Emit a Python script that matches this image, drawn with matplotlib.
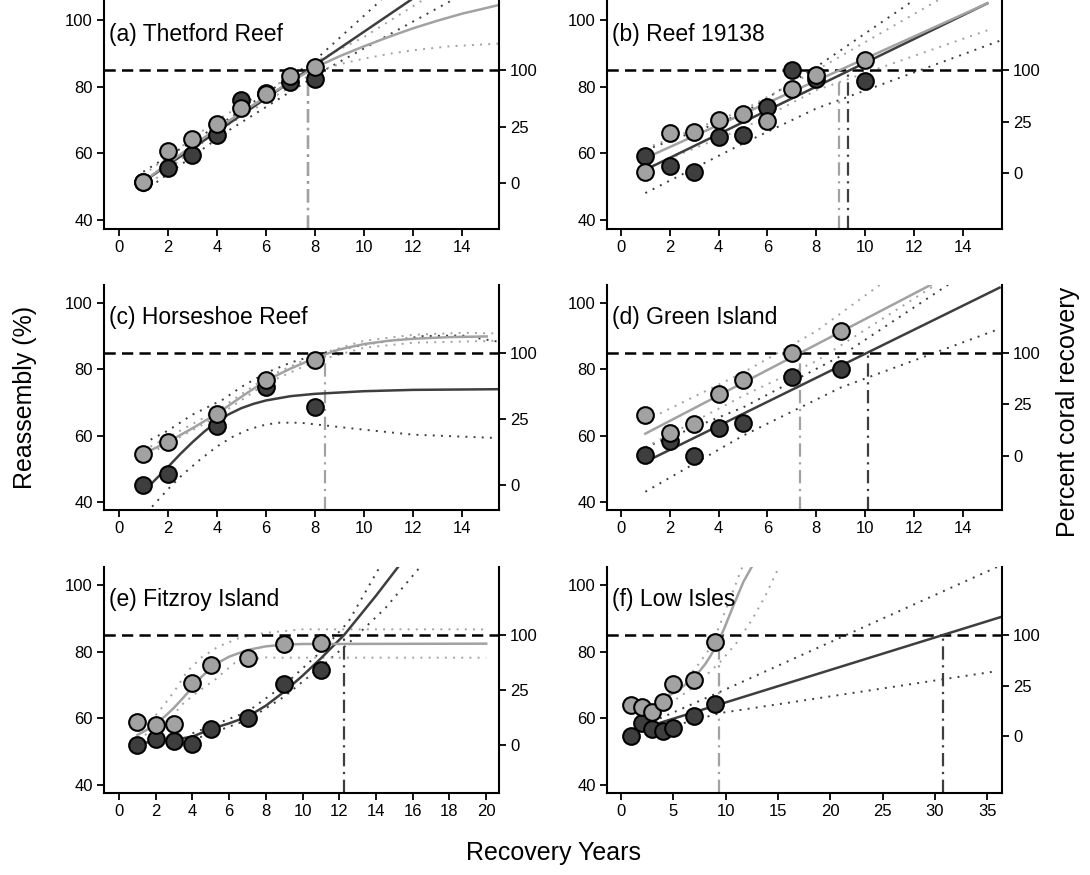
import matplotlib
matplotlib.use('Agg')
import matplotlib.pyplot as plt

plt.rcParams['font.family'] = ['Liberation Sans', 'DejaVu Sans']

DARK = '#3e3e3e'
LIGHT = '#a2a2a2'

# (a) Thetford Reef
a_years = [1, 2, 3, 4, 5, 6, 7, 8]
a_dark = [51.3, 55.6, 59.4, 65.6, 76.1, 78.3, 81.6, 82.4]
a_light = [51.3, 60.6, 64.3, 68.9, 73.6, 77.8, 83.3, 86.0]
a_dark_fit = ([1, 11.9], [51.5, 106.1])
a_light_fit = ([1, 2, 3, 4, 5, 6, 7, 8, 9, 10, 11, 12, 13, 14, 15.5],
               [51.5, 57.0, 62.3, 67.4, 72.3, 77.0, 81.5, 85.8, 89.2, 92.2, 95.0, 97.6, 99.9, 102.0, 104.6])
a_dark_ci = (([1, 4.5, 8, 10.7], [54.5, 70.5, 88.0, 106.1]),
             ([1, 4.5, 8.5, 13.6], [48.5, 67.0, 85.5, 106.1]))
a_light_ci = (([1, 4, 8, 10, 12.4], [53.5, 70.0, 87.5, 95.0, 106.1]),
              ([1, 4, 8, 9, 10, 11, 12, 13.5, 15.5], [49.5, 66.5, 84.5, 86.8, 88.5, 89.9, 91.0, 92.2, 93.0]))
a_right_ticks = [51.0, 67.8, 85.0]
a_reach = {'dark': 7.7, 'light': 7.7}

# (b) Reef 19138
b_years = [1, 2, 3, 4, 5, 6, 7, 8, 10]
b_dark = [59.1, 56.3, 54.4, 64.9, 65.6, 73.9, 85.0, 82.3, 81.9]
b_light = [54.4, 66.1, 66.4, 69.9, 71.9, 69.6, 79.4, 83.6, 88.0]
b_dark_fit = ([1, 15], [55.1, 105.1])
b_light_fit = ([1, 15], [58.6, 105.1])
b_dark_ci = (([1, 5, 8, 12], [61.0, 72.0, 86.0, 106.1]),
             ([1, 5, 8, 15.6], [48.1, 63.0, 73.5, 94.1]))
b_light_ci = (([1, 5, 8, 13], [61.5, 73.0, 85.0, 106.1]),
              ([1, 5, 8, 15], [55.5, 67.5, 79.0, 97.0]))
b_right_ticks = [54.2, 69.3, 85.0]
b_reach = {'dark': 9.31, 'light': 8.93}

# (c) Horseshoe Reef
c_years = [1, 2, 4, 6, 8]
c_dark = [45.2, 48.4, 62.8, 74.7, 68.5]
c_light = [54.5, 58.1, 66.6, 76.9, 82.7]
c_dark_fit = ([1, 1.5, 2, 2.5, 3, 3.5, 4, 4.5, 5, 5.5, 6, 7, 8, 10, 12, 15.5],
              [43.0, 46.8, 50.5, 54.4, 58.0, 61.3, 64.2, 66.5, 68.3, 69.6, 70.6, 71.9, 72.6, 73.4, 73.8, 74.0])
c_light_fit = ([1, 2, 3, 4, 5, 6, 7, 8, 9, 10, 11, 12, 13.5, 15],
               [54.5, 58.1, 62.2, 66.6, 71.7, 76.6, 80.2, 83.4, 86.0, 87.6, 88.6, 89.2, 89.7, 89.9])
c_dark_ci = (([1.3, 2, 3, 4.25, 5, 6, 7, 8.3, 10, 12.4, 14, 15.4],
              [58.8, 61.5, 66.3, 70.9, 74.7, 78.9, 82.0, 84.9, 87.4, 90.0, 90.2, 88.4]),
             ([1.36, 2, 2.58, 3.3, 4.0, 4.6, 5.24, 5.8, 6.46, 7.4, 8.5, 10, 12, 15.4],
              [38.6, 43.8, 48.1, 52.7, 56.7, 59.5, 61.7, 63.0, 63.9, 63.9, 63.0, 61.8, 60.3, 59.3]))
c_light_ci = (([1, 4, 6, 8, 10, 12, 14, 15.4], [55.5, 67.5, 77.5, 84.2, 88.6, 90.4, 91.0, 90.8]),
              ([1, 4, 6, 8, 10, 12, 15.4], [53.5, 65.7, 75.7, 82.4, 86.5, 88.0, 88.6]))
c_right_ticks = [45.1, 64.9, 85.0]
c_reach = {'light': 8.41}

# (d) Green Island
d_years = [1, 2, 3, 4, 5, 7, 9]
d_dark = [54.1, 58.4, 53.9, 62.4, 63.7, 77.7, 80.1]
d_light = [66.1, 60.9, 63.6, 72.6, 76.9, 84.8, 91.5]
d_dark_fit = ([1, 15.5], [52.1, 104.6])
d_light_fit = ([1, 12.7], [60.6, 105.5])
d_dark_ci = (([1, 5, 9, 13.5], [56.5, 68.5, 84.0, 106.0]),
             ([1, 5, 9, 15.5], [43.1, 60.0, 74.5, 92.2]))
d_light_ci = (([1, 5, 8, 10.7], [64.5, 79.0, 91.5, 106.0]),
              ([1, 5, 8, 13.0], [56.5, 72.0, 82.5, 106.0]))
d_right_ticks = [53.9, 69.4, 85.0]
d_reach = {'dark': 10.12, 'light': 7.33}

# (e) Fitzroy Island
e_years = [1, 2, 3, 4, 5, 7, 9, 11]
e_dark = [52.0, 53.7, 53.2, 52.3, 56.7, 60.0, 70.3, 74.5]
e_light = [59.0, 58.0, 58.2, 70.5, 76.0, 78.0, 82.3, 82.5]
e_dark_fit = ([1, 2, 3, 4, 5, 6, 7, 8, 9, 10, 11, 12.26, 13, 14, 15.2],
              [52.5, 53.0, 53.6, 54.5, 56.8, 58.5, 60.5, 63.8, 68.0, 72.8, 78.0, 85.0, 90.0, 96.8, 105.4])
e_light_fit = ([1, 1.5, 2, 2.5, 3, 3.5, 4, 4.5, 5, 5.5, 6, 7, 8, 9, 10, 20],
               [55.0, 56.5, 58.5, 60.6, 63.2, 66.2, 69.3, 72.5, 75.0, 77.0, 78.5, 80.5, 81.6, 82.1, 82.3, 82.4])
e_dark_ci = (([4, 7, 9, 11, 12.5, 14.2], [55.5, 62.0, 70.0, 80.0, 89.0, 105.4]),
             ([4, 7, 9, 11, 12.5, 14.5, 16.4], [53.5, 59.5, 66.5, 75.5, 82.5, 93.0, 105.4]))
e_light_ci = (([1, 2.1, 3, 3.7, 4.5, 5.4, 6.5, 7.9, 10, 20], [56.0, 61.5, 68.0, 74.0, 78.3, 81.5, 84.0, 85.6, 86.7, 86.7]),
              ([1, 2, 2.8, 3.5, 4.3, 5.2, 6.3, 7.9, 8.5, 20], [54.0, 56.5, 60.0, 64.5, 68.0, 71.5, 76.6, 78.3, 78.2, 78.2]))
e_right_ticks = [52.0, 68.5, 85.0]
e_reach = {'dark': 12.27}

# (f) Low Isles
f_years = [1, 2, 3, 4, 5, 7, 9]
f_dark = [54.7, 58.7, 56.7, 56.3, 57.2, 60.8, 64.3]
f_light = [64.0, 63.5, 62.0, 64.8, 70.3, 71.5, 82.8]
f_dark_fit = ([1, 36.4], [56.0, 90.5])
f_light_fit = ([3.9, 4.7, 5.5, 6.3, 7.0, 7.6, 8.1, 8.6, 9.2, 9.8, 10.3, 10.8, 11.7, 12.5],
               [65.5, 67.0, 68.6, 70.5, 72.5, 74.5, 76.5, 79.0, 82.5, 86.5, 90.4, 94.3, 101.0, 105.5])
f_dark_ci = (([3, 9.5, 36], [59.0, 68.0, 105.5]),
             ([3, 9.5, 36], [56.0, 61.6, 74.2]))
f_light_ci = (([4, 7, 8.5, 9.5, 10.5, 11.6], [65.5, 74.5, 81.0, 88.5, 96.5, 105.5]),
              ([4, 7, 9.5, 11, 12.5, 13.8, 15.1], [63.0, 69.5, 77.0, 82.5, 89.5, 96.8, 105.5]))
f_right_ticks = [54.7, 69.8, 85.0]
f_reach = {'dark': 30.76, 'light': 9.4}

right_labels = ['0', '25', '100']
target = 85

panels = [
    ('(a) Thetford Reef', a_years, a_dark, a_light, a_dark_fit, a_light_fit, a_dark_ci, a_light_ci, a_right_ticks, a_reach),
    ('(b) Reef 19138', b_years, b_dark, b_light, b_dark_fit, b_light_fit, b_dark_ci, b_light_ci, b_right_ticks, b_reach),
    ('(c) Horseshoe Reef', c_years, c_dark, c_light, c_dark_fit, c_light_fit, c_dark_ci, c_light_ci, c_right_ticks, c_reach),
    ('(d) Green Island', d_years, d_dark, d_light, d_dark_fit, d_light_fit, d_dark_ci, d_light_ci, d_right_ticks, d_reach),
    ('(e) Fitzroy Island', e_years, e_dark, e_light, e_dark_fit, e_light_fit, e_dark_ci, e_light_ci, e_right_ticks, e_reach),
    ('(f) Low Isles', f_years, f_dark, f_light, f_dark_fit, f_light_fit, f_dark_ci, f_light_ci, f_right_ticks, f_reach),
]

# layout in pixels of the 1090x875 figure
W, H = 1090, 875
col_x = [104, 607]
ax_w = 395
rows = [(0, 229), (285, 510), (567, 793)]
ylims = [(37.3, 106.1), (37.6, 105.4), (37.6, 105.4)]
xlims = [(-0.6, 15.5), (-0.57, 15.6), (-0.6, 15.5), (-0.57, 15.6), (-0.82, 20.7), (-1.34, 36.4)]
xticks = [range(0, 15, 2)] * 4 + [range(0, 21, 2), range(0, 36, 5)]

fig = plt.figure(figsize=(W / 100, H / 100), dpi=100)

for i, (title, yrs, dark, light, dfit, lfit, dci, lci, rticks, reach) in enumerate(panels):
    r, c = divmod(i, 2)
    top, bot = rows[r]
    ax = fig.add_axes([col_x[c] / W, 1 - bot / H, ax_w / W, (bot - top) / H])
    ax.set_xlim(*xlims[i])
    ax.set_ylim(*ylims[r])

    for ln in dci:
        ax.plot(ln[0], ln[1], color=DARK, lw=1.4, ls=(0, (1, 3.2)), zorder=2)
    for ln in lci:
        ax.plot(ln[0], ln[1], color=LIGHT, lw=1.4, ls=(0, (1, 3.2)), zorder=2)

    ax.plot(dfit[0], dfit[1], color=DARK, lw=1.8, zorder=3)
    ax.plot(lfit[0], lfit[1], color=LIGHT, lw=1.8, zorder=3)

    ax.axhline(target, color='black', lw=1.8, ls=(0, (4.5, 2.5)), zorder=2.5)
    for key, col in (('dark', DARK), ('light', LIGHT)):
        if key in reach:
            ax.plot([reach[key], reach[key]], [ylims[r][0], target], color=col, lw=1.6,
                    ls=(0, (6, 2.5, 1, 2.5)), zorder=2.5)

    ax.plot(yrs, dark, 'o', ms=12, mfc=DARK, mec='black', mew=1.5, zorder=4)
    ax.plot(yrs, light, 'o', ms=12, mfc=LIGHT, mec='black', mew=1.5, zorder=5)

    ax.text(0.012, 95.6, title, transform=ax.get_yaxis_transform(), fontsize=16.5,
            va='center', ha='left', zorder=6)

    ax.set_xticks(list(xticks[i]))
    ax.set_yticks([40, 60, 80, 100])
    ax.tick_params(direction='out', length=5, width=1.3, labelsize=12, pad=3)
    ax.spines['top'].set_visible(False)
    ax.spines['right'].set_visible(False)
    for s in ('left', 'bottom'):
        ax.spines[s].set_linewidth(1.5)

    ax2 = ax.twinx()
    ax2.set_ylim(*ylims[r])
    ax2.set_yticks(rticks)
    ax2.set_yticklabels(right_labels)
    ax2.tick_params(direction='out', length=5, width=1.3, labelsize=12, pad=3)
    for s in ('top', 'left', 'bottom'):
        ax2.spines[s].set_visible(False)
    ax2.spines['right'].set_linewidth(1.5)

fig.text(25 / W, 1 - 397 / H, 'Reassembly (%)', rotation=90, fontsize=18, ha='center', va='center')
fig.text(1068 / W, 1 - 412 / H, 'Percent coral recovery', rotation=90, fontsize=18, ha='center', va='center')
fig.text(553 / W, 1 - 853 / H, 'Recovery Years', fontsize=18, ha='center', va='center')

fig.savefig('out.png', dpi=100)
